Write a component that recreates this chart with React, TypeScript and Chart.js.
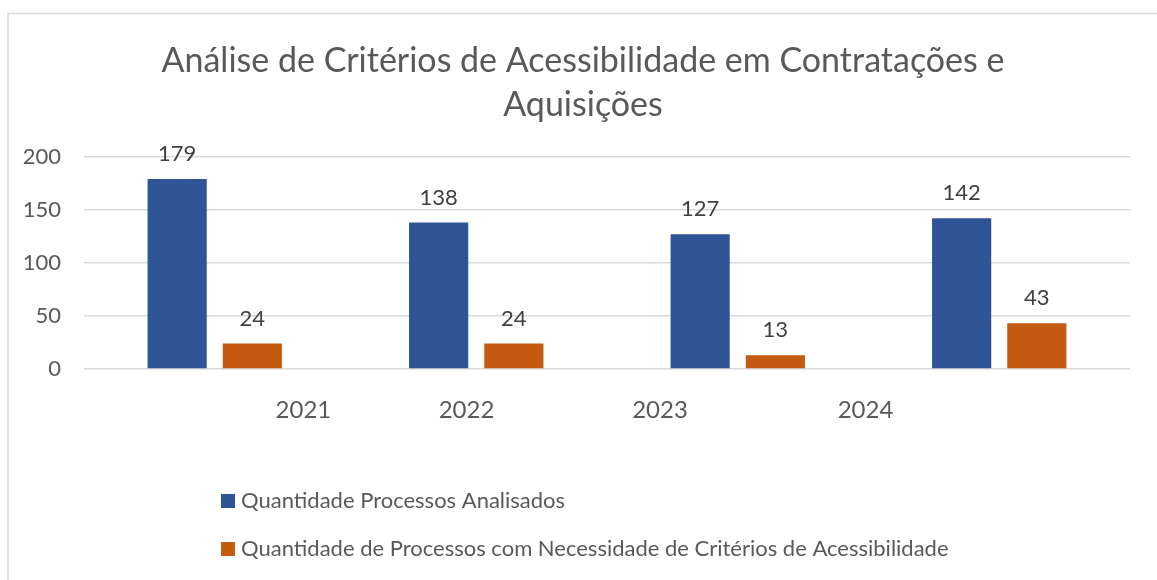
import React, { useEffect, useRef } from "react";
import { Chart, registerables } from "chart.js";

Chart.register(...registerables);

const categories = ["2021", "2022", "2023", "2024"];
const analisados = [179, 138, 127, 142];
const necessidade = [24, 24, 13, 43];
const seriesNames = [
  "Quantidade Processos Analisados",
  "Quantidade de Processos com Necessidade de Critérios de Acessibilidade",
];
const titleLines = [
  "Análise de Critérios de Acessibilidade em Contratações e",
  "Aquisições",
];
const yMin = 0;
const yMax = 200;
const yStep = 50;

const FONT = "Lato, 'Open Sans', sans-serif";
const TEXT = "#595959";
const GRID = "#d9d9d9";
// The source places the category labels offset from their bar groups.
const xLabelFractions = [0.2098, 0.3657, 0.5507, 0.7471];

const framePlugin = {
  id: "frame",
  beforeDraw(chart: any) {
    const ctx = chart.ctx;
    ctx.save();
    ctx.strokeStyle = GRID;
    ctx.lineWidth = 1.5;
    ctx.beginPath();
    ctx.moveTo(8, chart.height + 5);
    ctx.lineTo(8, 13.5);
    ctx.lineTo(chart.width + 5, 13.5);
    ctx.stroke();
    ctx.restore();
  },
};

const dataLabelPlugin = {
  id: "dataLabels",
  afterDatasetsDraw(chart: any) {
    const ctx = chart.ctx;
    ctx.save();
    ctx.font = `22px ${FONT}`;
    ctx.fillStyle = "#404040";
    ctx.textAlign = "center";
    ctx.textBaseline = "middle";
    chart.data.datasets.forEach((ds: any, i: number) => {
      const meta = chart.getDatasetMeta(i);
      meta.data.forEach((bar: any, j: number) => {
        ctx.fillText(String(ds.data[j]), bar.x, bar.y - 25);
      });
    });
    ctx.restore();
  },
};

const xLabelPlugin = {
  id: "xLabels",
  afterDraw(chart: any) {
    const ctx = chart.ctx;
    const a = chart.chartArea;
    ctx.save();
    ctx.font = `24px ${FONT}`;
    ctx.fillStyle = TEXT;
    ctx.textAlign = "center";
    ctx.textBaseline = "middle";
    categories.forEach((c, i) => {
      ctx.fillText(c, a.left + xLabelFractions[i] * (a.right - a.left), a.bottom + 41);
    });
    ctx.restore();
  },
};

const legendPlugin = {
  id: "vertLegend",
  afterDraw(chart: any) {
    const ctx = chart.ctx;
    ctx.save();
    ctx.font = `22px ${FONT}`;
    ctx.textAlign = "left";
    ctx.textBaseline = "middle";
    chart.data.datasets.forEach((ds: any, i: number) => {
      const cy = chart.height - 79 + i * 48;
      ctx.fillStyle = ds.backgroundColor;
      ctx.fillRect(221, cy - 7, 14, 14);
      ctx.fillStyle = TEXT;
      ctx.fillText(ds.label, 241, cy);
    });
    ctx.restore();
  },
};

export default function App() {
  const ref = useRef<HTMLCanvasElement | null>(null);
  useEffect(() => {
    if (!ref.current) return;
    const chart = new Chart(ref.current, {
      type: "bar",
      data: {
        labels: categories,
        datasets: [
          {
            label: seriesNames[0],
            data: analisados,
            backgroundColor: "#2F5597",
            categoryPercentage: 0.575,
            barPercentage: 0.787,
          },
          {
            label: seriesNames[1],
            data: necessidade,
            backgroundColor: "#C55A11",
            categoryPercentage: 0.575,
            barPercentage: 0.787,
          },
        ],
      },
      options: {
        animation: false,
        responsive: false,
        layout: { padding: { left: 20, right: 11, top: 39, bottom: 211 } },
        plugins: {
          legend: { display: false },
          tooltip: { enabled: false },
          title: {
            display: true,
            text: titleLines,
            color: TEXT,
            font: { family: FONT, size: 34, weight: "normal", lineHeight: 1.29 },
            padding: { top: 0, bottom: 30 },
          },
        },
        scales: {
          x: {
            ticks: { display: false },
            grid: { display: false, drawTicks: false },
            border: { display: false },
          },
          y: {
            min: yMin,
            max: yMax,
            afterFit(scale: any) {
              scale.width = 64;
            },
            ticks: {
              stepSize: yStep,
              color: TEXT,
              font: { family: FONT, size: 22 },
              padding: 23,
            },
            grid: { color: GRID, lineWidth: 1.5, drawTicks: false },
            border: { display: false },
          },
          yRightSpace: {
            position: "right",
            display: true,
            afterFit(scale: any) {
              scale.width = 16;
            },
            ticks: { display: false },
            grid: { display: false, drawTicks: false },
            border: { display: false },
          },
        },
      },
      plugins: [framePlugin, dataLabelPlugin, xLabelPlugin, legendPlugin],
    });
    return () => chart.destroy();
  }, []);
  return (
    <div style={{ position: "absolute", left: 0, top: 0, width: 1157, height: 580, background: "#fff" }}>
      <canvas ref={ref} width={1157} height={580} />
    </div>
  );
}
